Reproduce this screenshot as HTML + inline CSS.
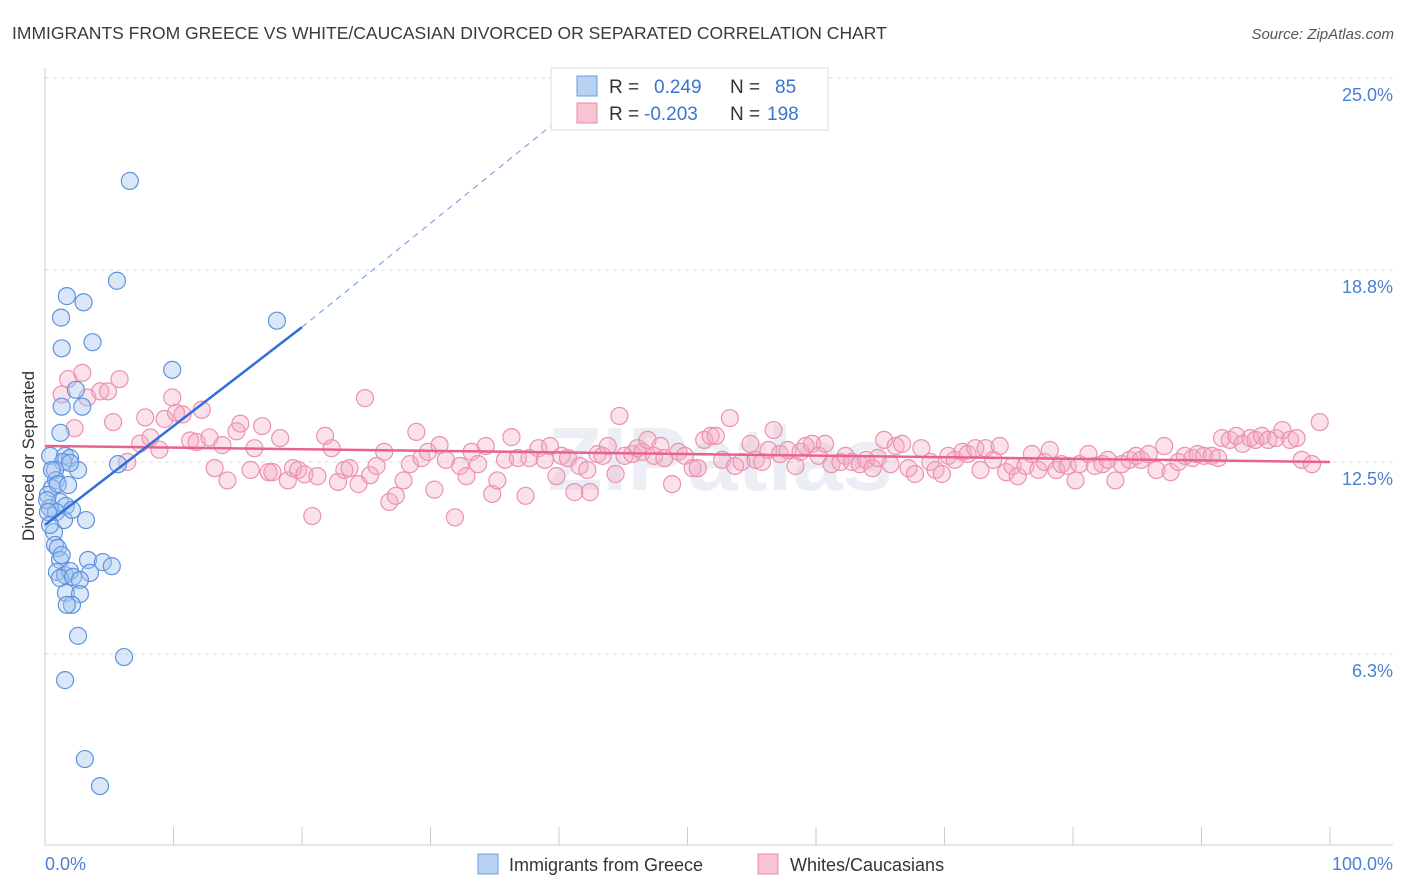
<!DOCTYPE html>
<html><head><meta charset="utf-8">
<style>
body{margin:0;background:#fff;font-family:"Liberation Sans",sans-serif;}
svg{display:block}
</style></head>
<body>
<svg id="chart" width="1406" height="892" viewBox="0 0 1406 892">
<text x="12" y="39" font-size="17.5" fill="#3a3a3a">IMMIGRANTS FROM GREECE VS WHITE/CAUCASIAN DIVORCED OR SEPARATED CORRELATION CHART</text>
<text x="1394" y="39" font-size="15" fill="#555" font-style="italic" text-anchor="end">Source: ZipAtlas.com</text>
<text x="720" y="490" font-size="90" fill="#dfe6ef" text-anchor="middle" font-weight="bold" opacity="0.6">ZIPatlas</text>
<g id="grid"></g>
<g id="axes"></g>
<g id="pink"></g>
<g id="blue"></g>
<g id="trends"></g>
<text transform="translate(34,456) rotate(-90)" font-size="17" fill="#333" text-anchor="middle">Divorced or Separated</text>
<text x="45" y="870" font-size="18" fill="#4a7fd4">0.0%</text>
<text x="1393" y="870" font-size="18" fill="#4a7fd4" text-anchor="end">100.0%</text>
<g>
<rect x="551" y="68" width="277" height="62" fill="#fff" stroke="#ddd"/>
<rect x="577" y="76" width="20" height="20" fill="#b8d2f3" stroke="#6a9be0"/>
<text x="609" y="93" font-size="19" fill="#333">R =</text>
<text x="654" y="93" font-size="19" fill="#3b74d1">0.249</text>
<text x="730" y="93" font-size="19" fill="#333">N =</text>
<text x="775" y="93" font-size="19" fill="#3b74d1">85</text>
<rect x="577" y="103" width="20" height="20" fill="#f8c4d4" stroke="#e88aa8"/>
<text x="609" y="120" font-size="19" fill="#333">R =</text>
<text x="644" y="120" font-size="19" fill="#3b74d1">-0.203</text>
<text x="730" y="120" font-size="19" fill="#333">N =</text>
<text x="767" y="120" font-size="19" fill="#3b74d1">198</text>
</g>
<g>
<rect x="478" y="854" width="20" height="20" fill="#b8d2f3" stroke="#6a9be0"/>
<text x="509" y="871" font-size="18" fill="#333">Immigrants from Greece</text>
<rect x="758" y="854" width="20" height="20" fill="#f8c4d4" stroke="#e88aa8"/>
<text x="790" y="871" font-size="18" fill="#333">Whites/Caucasians</text>
</g>
</svg>
<script>
const yTicks=[6.25,12.5,18.75,25];
const yTickLabels=["6.3%","12.5%","18.8%","25.0%"];
const xTicks=[0,10,20,30,40,50,60,70,80,90,100];
const blueX=[6.6,5.6,1.7,3.0,1.25,18.05,1.3,3.7,9.9,2.4,1.3,2.9,1.2,0.4,1.56,1.95,1.4,2.57,0.78,0.86,0.54,0.23,1.17,1.63,0.39,0.86,1.48,3.19,0.7,5.68,1.95,0.78,1.0,1.17,3.35,4.5,5.2,0.93,1.56,1.95,3.5,1.17,2.18,2.72,1.63,2.72,2.1,1.7,2.57,6.15,1.56,3.1,4.28,0.16,0.23,0.39,0.54,1.0,1.8,2.1,1.3];
const blueY=[21.65,18.4,17.9,17.7,17.2,17.1,16.2,16.4,15.5,14.85,14.3,14.3,13.45,12.7,12.7,12.63,12.5,12.24,12.24,11.91,11.65,11.43,11.2,11.07,11.0,10.87,10.61,10.61,10.22,12.43,12.47,9.8,9.7,9.31,9.31,9.24,9.11,8.92,8.82,8.95,8.89,8.72,8.76,8.66,8.24,8.2,7.85,7.85,6.84,6.15,5.4,2.83,1.95,11.26,10.87,10.45,12.24,11.78,11.75,10.94,9.47];
const pinkX=[1.8,2.9,5.8,1.3,2.3,3.3,4.3,4.9,5.3,6.4,7.4,8.2,7.8,8.9,9.3,9.9,10.2,10.7,11.3,11.8,12.2,12.8,13.2,13.8,14.2,14.9,15.2,16,16.3,16.9,17.4,17.7,18.3,18.9,19.3,19.7,20.2,20.8,21.2,21.8,22.3,22.8,23.3,23.7,24.4,24.9,25.3,25.8,26.4,26.8,27.3,27.9,28.4,28.9,29.3,29.8,30.3,30.7,31.2,31.9,32.3,32.8,33.2,33.7,34.3,34.8,35.2,35.8,36.3,36.8,37.4,37.7,38.4,38.9,39.3,39.8,40.2,40.7,41.2,41.6,42.2,42.4,43,43.4,43.8,44.4,44.7,45.1,45.7,46.1,46.5,46.9,47.4,47.9,48.2,48.8,49.3,49.8,50.4,50.8,51.3,51.8,52.2,52.7,53.3,53.7,54.2,54.9,55.3,55.8,56.3,56.7,57.2,57.8,58.4,58.8,59.2,59.7,60.2,60.7,61.2,61.9,62.3,62.8,63.4,63.9,64.4,64.8,65.3,65.8,66.2,66.7,67.2,67.7,68.2,68.9,69.3,69.8,70.3,70.8,71.4,71.8,72.4,72.8,73.2,73.8,74.3,74.8,75.3,75.7,76.3,76.8,77.3,77.8,78.2,78.7,79.1,79.6,80.2,80.5,81.2,81.7,82.3,82.7,83.3,83.8,84.4,84.9,85.3,85.9,86.5,87.1,87.6,88.2,88.7,89.3,89.7,90.2,90.8,91.3,91.6,92.2,92.7,93.2,93.8,94.2,94.7,95.2,95.8,96.3,96.9,97.4,97.8,98.6,99.2];
const pinkY=[15.2,15.4,15.2,14.7,13.6,14.6,14.8,14.8,13.8,12.5,13.1,13.3,13.95,12.9,13.9,14.6,14.1,14.05,13.2,13.15,14.2,13.3,12.3,13.05,11.9,13.5,13.75,12.24,12.95,13.67,12.17,12.17,13.28,11.9,12.3,12.24,12.1,10.74,12.04,13.35,12.95,11.85,12.24,12.3,11.78,14.58,12.07,12.37,12.83,11.2,11.4,11.9,12.43,13.48,12.63,12.83,11.6,13.05,12.57,10.7,12.37,12.04,12.83,12.43,13.02,11.46,11.9,12.57,13.31,12.63,11.4,12.63,12.95,12.57,13.02,12.04,12.7,12.63,11.52,12.37,12.24,11.52,12.76,12.7,13.02,12.11,14.0,12.7,12.76,12.95,12.83,13.22,12.7,13.02,12.63,11.78,12.83,12.7,12.3,12.3,13.22,13.35,13.35,12.57,13.93,12.37,12.5,13.09,12.57,12.5,12.89,13.54,12.76,12.89,12.37,12.83,13.02,13.09,12.7,13.09,12.43,12.5,12.7,12.5,12.43,12.57,12.3,12.63,13.22,12.43,13.02,13.09,12.3,12.11,12.95,12.5,12.24,12.11,12.7,12.57,12.83,12.76,12.95,12.24,12.95,12.57,13.02,12.17,12.37,12.04,12.37,12.76,12.24,12.5,12.89,12.24,12.43,12.37,11.9,12.43,12.76,12.37,12.43,12.57,11.9,12.43,12.57,12.7,12.57,12.76,12.24,13.02,12.17,12.5,12.7,12.63,12.76,12.7,12.7,12.63,13.28,13.22,13.35,13.09,13.28,13.22,13.35,13.22,13.28,13.54,13.22,13.28,12.57,12.43,13.8];
const blueTrendX=[0,20];
const blueTrendY=[10.45,16.89];
const blueDashX=[20,40.9];
const blueDashY=[16.89,23.96];
const pinkTrendX=[0,100];
const pinkTrendY=[13.02,12.5];

const NS="http://www.w3.org/2000/svg";
function sx(v){return 45+v*12.85;}
function sy(v){return 462-(v-12.5)*30.72;}
function mk(tag,attrs,parent){const e=document.createElementNS(NS,tag);for(const k in attrs)e.setAttribute(k,attrs[k]);parent.appendChild(e);return e;}

const grid=document.getElementById('grid');
yTicks.forEach((t,i)=>{
  const l=mk('line',{x1:45,x2:1393,y1:sy(t),y2:sy(t),stroke:'#dcdcdc','stroke-dasharray':'4,4'},grid);
  
  
  const tx=mk('text',{x:1393,y:sy(t)+23,'font-size':18,fill:'#4a7fd4','text-anchor':'end'},grid);
  tx.textContent=yTickLabels[i];
  
  
});
const axes=document.getElementById('axes');
const xa=mk('line',{x1:45,x2:1393,y1:845,y2:845,stroke:'#ccc'},axes);


const ya=mk('line',{x1:45,x2:45,y1:68,y2:845,stroke:'#ccc'},axes);


xTicks.forEach(t=>{
  const l=mk('line',{x1:sx(t),x2:sx(t),y1:827,y2:845,stroke:'#ccc'},axes);
  
  
});
const pg=document.getElementById('pink');
pinkX.forEach((x,i)=>{
  const c=mk('circle',{cx:sx(x),cy:sy(pinkY[i]),r:8.5,fill:'rgba(244,170,195,0.35)',stroke:'#eb92b0','stroke-width':1.2},pg);
  
  
});
const bg=document.getElementById('blue');
blueX.forEach((x,i)=>{
  const c=mk('circle',{cx:sx(x),cy:sy(blueY[i]),r:8.5,fill:'rgba(160,195,240,0.4)',stroke:'#5f93dd','stroke-width':1.2},bg);
  
  
});
const tg=document.getElementById('trends');
const pl=mk('line',{x1:sx(pinkTrendX[0]),y1:sy(pinkTrendY[0]),x2:sx(pinkTrendX[1]),y2:sy(pinkTrendY[1]),stroke:'#e8628f','stroke-width':2.5},tg);


const bl=mk('line',{x1:sx(blueTrendX[0]),y1:sy(blueTrendY[0]),x2:sx(blueTrendX[1]),y2:sy(blueTrendY[1]),stroke:'#2f6fd8','stroke-width':2.5},tg);


const bd=mk('line',{x1:sx(blueDashX[0]),y1:sy(blueDashY[0]),x2:sx(blueDashX[1]),y2:sy(blueDashY[1]),stroke:'#7fa6e6','stroke-width':1.2,'stroke-dasharray':'6,5'},tg);


</script>
</body></html>
